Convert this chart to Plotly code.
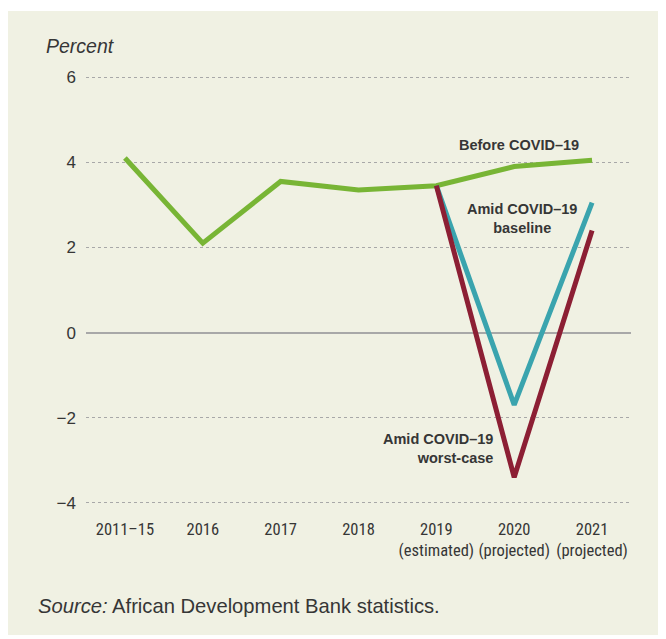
import plotly.graph_objects as go

categories = ["2011–15", "2016", "2017", "2018",
              "2019<br>(estimated)", "2020<br>(projected)", "2021<br>(projected)"]
before_covid = [4.1, 2.1, 3.55, 3.35, 3.45, 3.9, 4.05]
amid_baseline = [3.45, -1.7, 3.05]
amid_worst = [3.45, -3.4, 2.4]
projection_cats = categories[4:]
y_ticks = [-4, -2, 0, 2, 4, 6]

OFF = 8  # browser body margin
W, H = 666 - OFF, 639 - OFF
ML, MR, MT, MB = 86 - OFF, 35, 75 - OFF, 134
pw = W - ML - MR
ph = H - MT - MB

def px_x(p):
    return (p - OFF - ML) / pw

def px_y(p):
    return 1 - (p - OFF - MT) / ph

GREEN = "#78b535"
TEAL = "#3aa4ae"
MAROON = "#8c1f34"
TXT = "#363636"
FONT = "Liberation Sans Narrow, Roboto Condensed, Arial Narrow, Liberation Sans, Arial, sans-serif"
FONT2 = "Liberation Sans, Arial, Helvetica, sans-serif"

fig = go.Figure()
fig.add_trace(go.Scatter(x=categories, y=before_covid, mode="lines",
                         line=dict(color=GREEN, width=5), showlegend=False, hoverinfo="skip"))
fig.add_trace(go.Scatter(x=projection_cats, y=amid_baseline, mode="lines",
                         line=dict(color=TEAL, width=5), showlegend=False, hoverinfo="skip"))
fig.add_trace(go.Scatter(x=projection_cats, y=amid_worst, mode="lines",
                         line=dict(color=MAROON, width=5), showlegend=False, hoverinfo="skip"))

fig.update_layout(
    width=W, height=H,
    margin=dict(l=ML, r=MR, t=MT, b=MB),
    paper_bgcolor="white",
    plot_bgcolor="rgba(0,0,0,0)",
    showlegend=False,
    font=dict(family=FONT2, color=TXT),
    shapes=[dict(type="rect", xref="paper", yref="paper",
                 x0=px_x(8), x1=px_x(680), y0=px_y(635), y1=px_y(11),
                 fillcolor="#f0f1e3", line=dict(width=0), layer="below")],
    xaxis=dict(
        type="category", range=[-0.5, 6.5], showgrid=False, zeroline=False,
        showline=False, ticks="", tickfont=dict(family=FONT, size=16.5, color=TXT),
        ticklabelstandoff=12, fixedrange=True,
    ),
    yaxis=dict(
        range=[-4.05, 6.05], tickvals=y_ticks,
        ticktext=[("−" + str(abs(v))) if v < 0 else str(v) for v in y_ticks],
        showgrid=True, gridcolor="#a8a8a8", gridwidth=1, griddash="3px,3px",
        zeroline=True, zerolinecolor="#a8a8a8", zerolinewidth=1.5,
        showline=False, ticks="", ticklabelstandoff=9,
        tickfont=dict(family=FONT2, size=17, color=TXT), fixedrange=True,
    ),
    annotations=[
        dict(text="<i>Percent</i>", xref="paper", yref="paper", x=px_x(44), y=px_y(46),
             xanchor="left", yanchor="middle", showarrow=False,
             font=dict(family=FONT2, size=19.5, color=TXT)),
        dict(text="<i>Source:</i> African Development Bank statistics.", xref="paper", yref="paper",
             x=px_x(36), y=px_y(606), xanchor="left", yanchor="middle", showarrow=False,
             font=dict(family=FONT2, size=20.2, color=TXT)),
        dict(text="<b>Before COVID–19</b>", xref="paper", yref="paper",
             x=px_x(519), y=px_y(145), xanchor="center", yanchor="middle", showarrow=False,
             font=dict(family=FONT2, size=14.5, color=TXT)),
        dict(text="<b>Amid COVID–19<br>baseline</b>", xref="paper", yref="paper",
             x=px_x(522), y=px_y(218), xanchor="center", yanchor="middle", showarrow=False,
             align="center", font=dict(family=FONT2, size=14.5, color=TXT)),
        dict(text="<b>Amid COVID–19<br>worst-case</b>", xref="paper", yref="paper",
             x=px_x(495), y=px_y(448), xanchor="right", yanchor="middle", showarrow=False,
             align="right", font=dict(family=FONT2, size=14.5, color=TXT)),
    ],
)

fig.write_html("out.html")
